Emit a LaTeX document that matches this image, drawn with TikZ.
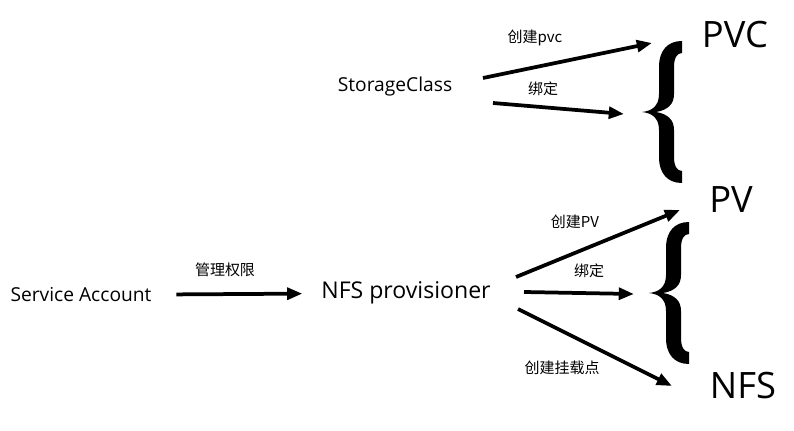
\documentclass[tikz,border=0pt]{standalone}
\usepackage{fontspec}
\setmainfont{Open Sans}
\newfontfamily\cjk{Noto Sans CJK SC}
\usetikzlibrary{arrows.meta}

\tikzset{
	arr/.style={-{Triangle[length=13pt,width=10pt]}, line width=3.2pt},
	lbl/.style={font=\cjk\fontsize{12.8}{14}\selectfont, inner sep=0pt},
	mid/.style={font=\fontsize{16.4}{19}\selectfont, inner sep=0pt},
	big/.style={font=\fontsize{31}{35}\selectfont, inner sep=0pt},
	bigbrace/.pic={
		\fill (40,-71) .. controls (26,-71) and (17,-62) .. (17,-45) -- (17,-18)
			.. controls (17,-6) and (10,-1) .. (0,0)
			.. controls (10,1) and (17,6) .. (17,18) -- (17,45)
			.. controls (17,62) and (26,71) .. (40,71)
			-- (40,59) .. controls (35,59) and (32,54) .. (32,45) -- (32,18)
			.. controls (32,8) and (26,2) .. (14,0)
			.. controls (26,-2) and (32,-8) .. (32,-18) -- (32,-45)
			.. controls (32,-54) and (35,-59) .. (40,-59) -- cycle;
	}
}

\begin{document}
\begin{tikzpicture}[x=0.03cm, y=-0.03cm]
	\useasboundingbox (0,0) rectangle (794,431);

	\node[mid] (sc) at (395,87) {StorageClass};
	\node[mid] (sa) at (81,295) {Service Account};
	\node[mid, font=\fontsize{19.7}{23}\selectfont] (np) at (406,293) {NFS provisioner};

	\node[big] (pvc) at (735,35) {PVC};
	\node[big] (pv) at (731,200) {PV};
	\node[big] (nfs) at (743,386) {NFS};

	% braces
	\pic at (642,112) {bigbrace};
	\pic at (649,293) {bigbrace};

	% arrow ends
	\coordinate (sc1) at (483,78);
	\coordinate (sc2) at (493,103);
	\coordinate (pvc1) at (652,43);
	\coordinate (pvc2) at (624,114);
	\coordinate (np1) at (516,277);
	\coordinate (np2) at (524,292);
	\coordinate (np3) at (518,309);
	\coordinate (pv1) at (680,210);
	\coordinate (pv2) at (634,294);
	\coordinate (nfs1) at (672,386);

	\draw[arr] (sa) -- (np) [shorten <=21pt, shorten >=16pt];
	\draw[arr] (sc1) -- (pvc1);
	\draw[arr] (sc2) -- (pvc2);
	\draw[arr] (np1) -- (pv1);
	\draw[arr] (np2) -- (pv2);
	\draw[arr] (np3) -- (nfs1);

	\node[lbl] (l0) at (225,270) {管理权限};
	\node[lbl] (l1) at (535,38) {创建pvc};
	\node[lbl] (l2) at (543,89) {绑定};
	\node[lbl] (l3) at (575,222) {创建PV};
	\node[lbl] (l4) at (589,271) {绑定};
	\node[lbl] (l5) at (562,368) {创建挂载点};
\end{tikzpicture}
\end{document}
